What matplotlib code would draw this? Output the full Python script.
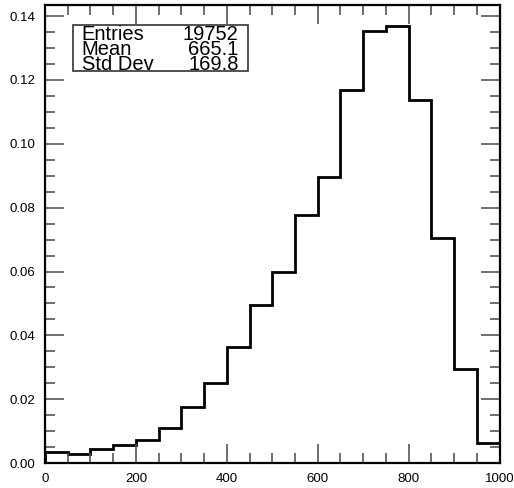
import numpy as np
import matplotlib.pyplot as plt
from matplotlib.ticker import MultipleLocator

plt.rcParams['font.family'] = ['Liberation Sans', 'DejaVu Sans']

# bin edges and normalised contents
edges = np.arange(0, 1001, 50)
contents = [0.0035, 0.0028, 0.0044, 0.0056, 0.0072, 0.0110, 0.0176, 0.0250,
            0.0364, 0.0496, 0.0600, 0.0778, 0.0895, 0.1168, 0.1353, 0.1368,
            0.1136, 0.0706, 0.0295, 0.0063]

stat_names = ["Entries", "Mean", "Std Dev"]
stat_values = ["19752", "665.1", "169.8"]

fig = plt.figure(figsize=(5.14, 4.88), dpi=100)
ax = fig.add_axes([0.0875, 0.0512, 0.8845, 0.9395])

ax.stairs(contents, edges, color="black", linewidth=2)

ax.set_xlim(0, 1000)
ax.set_ylim(0, 1.05 * max(contents))
ax.xaxis.set_major_locator(MultipleLocator(200))
ax.xaxis.set_minor_locator(MultipleLocator(50))
ax.yaxis.set_major_locator(MultipleLocator(0.02))
ax.yaxis.set_minor_locator(MultipleLocator(0.005))
ax.yaxis.set_major_formatter(plt.FormatStrFormatter("%.2f"))
ax.tick_params(which="both", direction="in", top=True, right=True,
               color="#555555", labelsize=9.5)
ax.tick_params(which="major", length=14, width=1.2, pad=7)
ax.tick_params(which="minor", length=7, width=1.2)
for s in ax.spines.values():
    s.set_linewidth(1.6)

# stats box
bx0, bx1 = 0.0615, 0.446
by0, by1 = 0.856, 0.956
ax.add_patch(plt.Rectangle((bx0, by0), bx1 - bx0, by1 - by0, transform=ax.transAxes,
                           fill=False, edgecolor="#333333", linewidth=1.2, zorder=5))
baselines = [0.922, 0.889, 0.858]
for n, v, y in zip(stat_names, stat_values, baselines):
    ax.text(0.081, y, n, transform=ax.transAxes, fontsize=14.5,
            va="baseline", ha="left")
    ax.text(0.426, y, v, transform=ax.transAxes, fontsize=14.5,
            va="baseline", ha="right")

fig.savefig("out.png", dpi=100)
